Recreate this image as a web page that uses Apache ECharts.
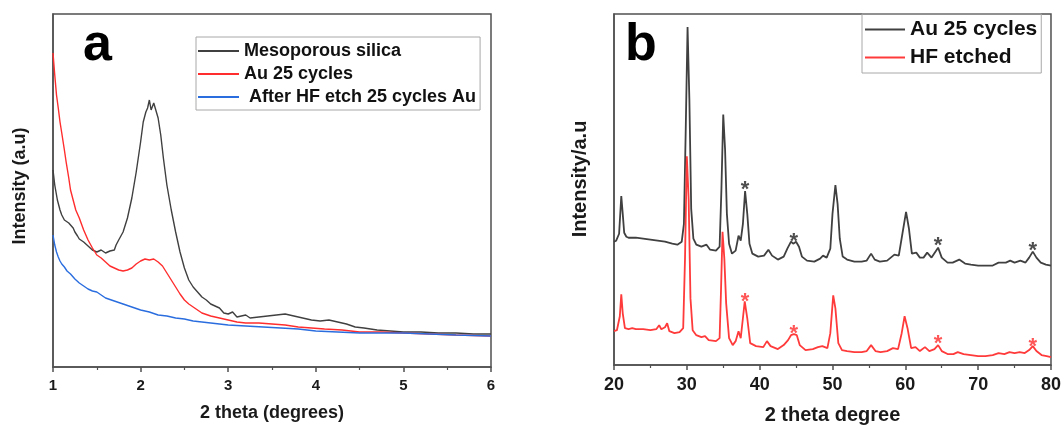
<!DOCTYPE html>
<html>
<head>
<meta charset="utf-8">
<script src="https://cdn.jsdelivr.net/npm/echarts@6/dist/echarts.min.js"></script>
<style>html,body{margin:0;padding:0;background:#fff}#c{width:1064px;height:430px}</style>
</head>
<body>
<div id="c"></div>
<script>
// ---- Panel a (low-angle XRD), [2theta, intensity a.u.] ----
const silicaA = [[1.00,197],[1.02,182],[1.05,167],[1.08,157],[1.10,152],[1.13,147],[1.15,149],[1.18,144],[1.20,142],[1.23,139],[1.25,135],[1.28,131],[1.30,128],[1.35,125],[1.40,121],[1.45,117],[1.50,115],[1.55,117],[1.60,114],[1.65,116],[1.70,117],[1.72,122],[1.75,127],[1.80,135],[1.85,149],[1.90,169],[1.95,195],[2.00,225],[2.03,245],[2.06,255],[2.08,259],[2.10,267],[2.12,257],[2.15,264],[2.17,266],[2.20,249],[2.23,232],[2.26,209],[2.30,182],[2.35,157],[2.40,135],[2.45,115],[2.50,99],[2.55,87],[2.60,80],[2.65,75],[2.70,70],[2.75,67],[2.80,63],[2.90,59],[2.95,54],[3.00,53],[3.05,55],[3.10,50],[3.20,52],[3.25,49],[3.35,50],[3.45,51],[3.55,52],[3.65,53],[3.75,51],[3.85,49],[3.95,47],[4.05,46],[4.15,47],[4.25,45],[4.35,43],[4.45,40],[4.55,39],[4.70,37],[4.85,36],[5.00,35],[5.20,35],[5.40,34],[5.60,34],[5.80,33],[6.00,33]];
const au25A = [[1.00,314],[1.02,292],[1.04,272],[1.06,259],[1.08,245],[1.10,234],[1.13,217],[1.15,205],[1.18,189],[1.20,177],[1.23,167],[1.26,157],[1.30,149],[1.35,137],[1.40,127],[1.45,119],[1.50,112],[1.55,109],[1.60,105],[1.65,101],[1.70,99],[1.75,97],[1.80,96],[1.85,97],[1.90,99],[1.95,103],[2.00,106],[2.05,108],[2.10,107],[2.15,108],[2.20,105],[2.25,101],[2.30,94],[2.35,87],[2.40,80],[2.45,73],[2.50,67],[2.55,63],[2.60,60],[2.70,54],[2.80,51],[2.90,49],[3.00,47],[3.10,45],[3.20,44],[3.35,44],[3.50,43],[3.65,42],[3.80,40],[3.95,39],[4.10,38],[4.30,37],[4.50,35],[4.75,35],[5.00,34],[5.30,33],[5.60,32],[6.00,31]];
const hfA = [[1.00,132],[1.02,122],[1.04,115],[1.06,110],[1.08,106],[1.10,103],[1.13,100],[1.16,96],[1.20,93],[1.25,88],[1.30,84],[1.35,81],[1.40,78],[1.45,76],[1.50,75],[1.55,72],[1.60,69],[1.70,66],[1.80,63],[1.90,60],[2.00,57],[2.10,55],[2.20,52],[2.30,51],[2.40,49],[2.50,48],[2.60,46],[2.70,45],[2.80,44],[2.90,43],[3.00,42],[3.20,41],[3.40,40],[3.60,39],[3.80,38],[4.00,36],[4.25,35],[4.50,34],[4.75,34],[5.00,34],[5.30,33],[5.60,32],[6.00,31]];

// ---- Panel b (wide-angle XRD) ----
const au25B = [[20.0,124],[20.3,125],[20.7,132],[21.0,170],[21.2,152],[21.4,133],[21.7,129],[22.0,128],[23.0,128],[24.0,127],[25.0,126],[26.0,125],[27.0,124],[28.0,122],[28.7,121],[29.3,124],[29.6,142],[29.85,237],[30.1,340],[30.35,267],[30.6,157],[30.9,127],[31.3,121],[32.0,119],[32.7,121],[33.2,116],[34.0,115],[34.5,119],[34.75,177],[35.0,252],[35.25,217],[35.5,152],[35.8,122],[36.2,112],[36.7,115],[37.1,130],[37.4,125],[37.7,142],[38.0,175],[38.3,152],[38.6,122],[39.0,112],[39.8,109],[40.6,110],[41.2,116],[41.7,110],[42.5,106],[43.3,109],[43.8,117],[44.3,124],[44.6,122],[45.0,124],[45.4,119],[45.8,109],[46.5,105],[47.5,104],[48.3,107],[48.7,110],[49.2,108],[49.7,117],[50.0,152],[50.4,181],[50.7,162],[51.0,127],[51.4,109],[52.0,106],[53.0,104],[54.0,104],[54.7,105],[55.3,112],[55.8,106],[56.5,104],[57.5,105],[58.5,111],[59.1,110],[59.6,132],[60.1,154],[60.5,137],[60.9,112],[61.5,113],[62.0,108],[62.5,108],[63.0,113],[63.6,108],[64.5,118],[65.0,108],[65.8,103],[66.5,103],[67.4,106],[68.2,102],[69.0,101],[70.0,100],[71.0,100],[72.0,100],[72.8,103],[73.8,103],[74.4,105],[75.0,103],[75.8,105],[76.5,103],[77.0,108],[77.5,114],[78.0,108],[78.6,103],[79.3,101],[80.0,100]];
const hfB = [[20.0,34],[20.4,35],[20.8,49],[21.0,71],[21.2,52],[21.5,37],[22.0,36],[22.5,37],[23.0,36],[24.0,36],[25.0,35],[25.8,36],[26.2,40],[26.5,36],[27.0,38],[27.3,42],[27.6,34],[28.3,32],[29.0,33],[29.5,37],[29.75,107],[30.0,210],[30.25,167],[30.5,67],[30.8,35],[31.3,30],[32.0,28],[32.5,29],[33.0,25],[34.0,24],[34.5,27],[34.7,77],[34.9,134],[35.15,107],[35.4,62],[35.8,27],[36.3,20],[36.7,24],[37.1,34],[37.4,27],[37.7,47],[37.95,64],[38.3,47],[38.7,22],[39.5,19],[40.5,18],[41.0,24],[41.5,19],[42.5,16],[43.3,20],[43.9,25],[44.3,30],[44.7,31],[45.1,30],[45.5,20],[46.3,15],[47.3,16],[48.0,18],[48.6,19],[49.3,17],[49.7,32],[50.1,70],[50.4,57],[50.8,22],[51.3,15],[52.0,14],[53.0,13],[54.0,13],[54.7,14],[55.3,20],[55.9,14],[56.6,13],[57.5,14],[58.3,17],[59.0,16],[59.5,32],[59.9,49],[60.3,37],[60.8,17],[61.4,18],[62.0,14],[62.7,18],[63.3,14],[64.0,16],[64.5,20],[65.0,14],[65.8,11],[66.6,11],[67.2,13],[68.0,11],[69.0,10],[70.0,9],[71.0,9],[72.0,10],[72.8,12],[73.6,11],[74.3,13],[75.0,12],[75.7,13],[76.4,12],[77.0,15],[77.5,19],[78.0,14],[78.7,10],[79.4,9],[80.0,8]];

// Au reflections marked with asterisks
const starsBlack = [[38.0,182],[44.7,130],[64.5,126],[77.5,121]];
const starsRed = [[38.0,69],[44.7,37],[64.5,27],[77.5,24]];

const ticksA = [1,2,3,4,5,6];
const ticksB = [20,30,40,50,60,70,80];

const FONT = '"Liberation Sans", Arial, sans-serif';
const FRAME = '#505050';
const BLACK = '#404040', RED = '#ff2d2d', BLUE = '#2a6ddf', REDB = '#ff3a3a';

const chart = echarts.init(document.getElementById('c'), null, {renderer: 'canvas'});

function xAxis(gi, min, max, interval, name, fs, nameFs, nameGap) {
  return {
    type: 'value', gridIndex: gi, min: min, max: max, interval: interval,
    axisLine: {show: true, lineStyle: {color: FRAME, width: 1.5}},
    axisTick: {show: true, length: 5, lineStyle: {color: FRAME, width: 1.5}},
    minorTick: {show: true, splitNumber: 2, length: 3, lineStyle: {color: FRAME, width: 1.2}},
    splitLine: {show: false},
    axisLabel: {fontFamily: FONT, fontWeight: 'bold', fontSize: fs, color: '#1a1a1a', margin: 11},
    name: name, nameLocation: 'middle', nameGap: nameGap,
    nameTextStyle: {fontFamily: FONT, fontWeight: 'bold', fontSize: nameFs, color: '#1a1a1a'}
  };
}
function yAxis(gi) {
  return {
    type: 'value', gridIndex: gi, min: 0, max: 353,
    axisLine: {show: true, lineStyle: {color: FRAME, width: 1.5}},
    axisTick: {show: false}, axisLabel: {show: false}, splitLine: {show: false}
  };
}
function line(name, data, xi, color, w) {
  return {type: 'line', name: name, data: data, xAxisIndex: xi, yAxisIndex: xi,
    symbol: 'none', smooth: false, lineStyle: {color: color, width: w}, itemStyle: {color: color},
    animation: false};
}
function stars(data, color) {
  return {type: 'scatter', data: data, xAxisIndex: 1, yAxisIndex: 1, symbolSize: 0,
    itemStyle: {color: color}, silent: true, animation: false,
    label: {show: true, formatter: '*', position: 'inside', offset: [0, 6],
      fontFamily: FONT, fontWeight: 'bold', fontSize: 22, color: color}};
}

chart.setOption({
  backgroundColor: '#fff',
  animation: false,
  grid: [
    {left: 53, right: 573, top: 14, bottom: 63, show: true, borderColor: FRAME, borderWidth: 1.5, containLabel: false},
    {left: 614, right: 13, top: 14, bottom: 63, show: true, borderColor: FRAME, borderWidth: 1.5, containLabel: false}
  ],
  xAxis: [
    xAxis(0, ticksA[0], ticksA[ticksA.length-1], 1, '2 theta (degrees)', 15, 18, 37),
    xAxis(1, ticksB[0], ticksB[ticksB.length-1], 10, '2 theta degree', 18, 20, 40)
  ],
  yAxis: [yAxis(0), yAxis(1)],
  legend: [
    {data: ['Mesoporous silica', 'Au 25 cycles', ' After HF etch 25 cycles Au'],
     orient: 'vertical', left: 196, top: 37, icon: 'rect', itemWidth: 41, itemHeight: 2, itemGap: 5,
     padding: [5, 4, 4, 2], borderColor: '#a8a8a8', borderWidth: 1, selectedMode: false,
     textStyle: {fontFamily: FONT, fontWeight: 'bold', fontSize: 18, color: '#111'}},
    {data: ['Au 25 cycles ', 'HF etched'],
     orient: 'vertical', left: 862, top: 14, icon: 'rect', itemWidth: 40, itemHeight: 2, itemGap: 7,
     padding: [5, 4, 5, 3], borderColor: '#a8a8a8', borderWidth: 1, selectedMode: false,
     formatter: function (n) { return n.trim(); },
     textStyle: {fontFamily: FONT, fontWeight: 'bold', fontSize: 21, color: '#111'}}
  ],
  series: [
    line('Mesoporous silica', silicaA, 0, BLACK, 1.4),
    line('Au 25 cycles', au25A, 0, RED, 1.4),
    line(' After HF etch 25 cycles Au', hfA, 0, BLUE, 1.4),
    line('Au 25 cycles ', au25B, 1, BLACK, 1.8),
    line('HF etched', hfB, 1, REDB, 1.8),
    stars(starsBlack, '#222'),
    stars(starsRed, RED)
  ],
  graphic: [
    {type: 'text', left: 83, top: 20, style: {text: 'a', fontFamily: FONT, fontWeight: 'bold', fontSize: 52, fill: '#000'}},
    {type: 'text', left: 625, top: 20, style: {text: 'b', fontFamily: FONT, fontWeight: 'bold', fontSize: 52, fill: '#000'}},
    {type: 'text', x: 20, y: 186, rotation: Math.PI / 2,
     style: {text: 'Intensity (a.u)', fontFamily: FONT, fontWeight: 'bold', fontSize: 18, fill: '#1a1a1a', align: 'center', verticalAlign: 'middle'}},
    {type: 'text', x: 580, y: 179, rotation: Math.PI / 2,
     style: {text: 'Intensity/a.u', fontFamily: FONT, fontWeight: 'bold', fontSize: 20, fill: '#1a1a1a', align: 'center', verticalAlign: 'middle'}}
  ]
});
</script>
</body>
</html>
